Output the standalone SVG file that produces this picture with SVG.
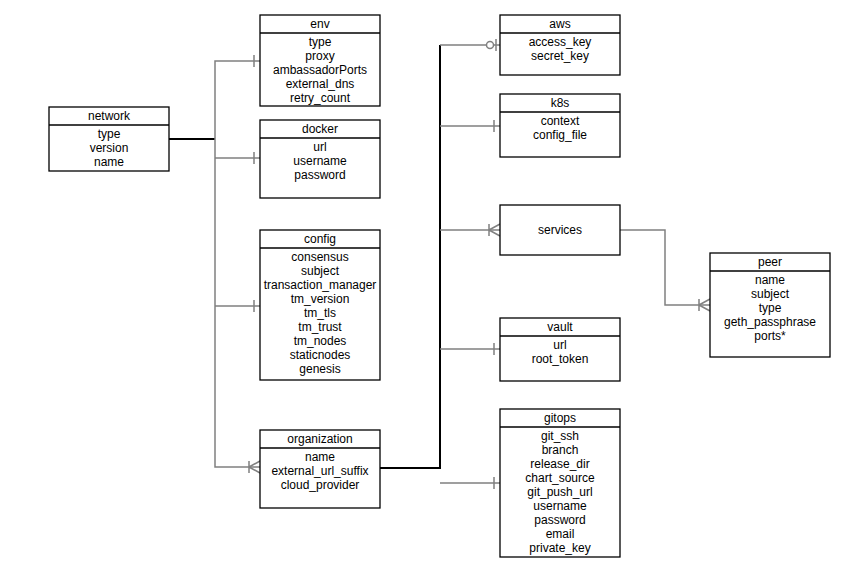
<svg xmlns="http://www.w3.org/2000/svg" width="852" height="579" viewBox="0 0 852 579">
<style>
.box{fill:#fff;stroke:#000;stroke-width:1.3}
text{font-family:"Liberation Sans",Arial,sans-serif;font-size:12px;text-anchor:middle;fill:#000}
.g{fill:none;stroke:#808080;stroke-width:1.5}
.b{fill:none;stroke:#000;stroke-width:2}
.m{fill:none;stroke:#808080;stroke-width:1.5}
</style>
<rect width="852" height="579" fill="#fff"/>
<g id="connectors">
<path class="b" d="M169 139H215"/>
<path class="g" d="M260 61H215V467H260M215 158H260M215 306H260"/>
<path class="b" d="M380 468H440V45"/>
<path class="g" d="M500 45H440M440 126H500M440 230H500M440 349H500M440 483H500"/>
<path class="g" d="M620 230H665V305H710"/>
<path class="m" d="M254 55V67M254 152V164M254 300V312M494 120V132M494 343V355M494 477V489"/>
<path class="m" d="M496 39V51"/>
<circle cx="490" cy="45" r="3.5" fill="#fff" stroke="#808080" stroke-width="1.5"/>
<path class="m" d="M249 461V473M249 467L260 461M249 467L260 473M489 224V236M489 230L500 224M489 230L500 236M699 299V311M699 305L710 299M699 305L710 311"/>
</g>
<g id="network"><rect class="box" x="49" y="107" width="120" height="64"/><path class="box" d="M49 125H169"/><text x="109" y="120">network</text><text x="109" y="138">type</text><text x="109" y="152">version</text><text x="109" y="166">name</text></g>
<g id="env"><rect class="box" x="260" y="15" width="120" height="91"/><path class="box" d="M260 33H380"/><text x="320" y="28">env</text><text x="320" y="46">type</text><text x="320" y="60">proxy</text><text x="320" y="74">ambassadorPorts</text><text x="320" y="88">external_dns</text><text x="320" y="102">retry_count</text></g>
<g id="docker"><rect class="box" x="260" y="120" width="120" height="78"/><path class="box" d="M260 138H380"/><text x="320" y="133">docker</text><text x="320" y="151">url</text><text x="320" y="165">username</text><text x="320" y="179">password</text></g>
<g id="config"><rect class="box" x="260" y="230" width="120" height="150"/><path class="box" d="M260 248H380"/><text x="320" y="243">config</text><text x="320" y="261">consensus</text><text x="320" y="275">subject</text><text x="320" y="289">transaction_manager</text><text x="320" y="303">tm_version</text><text x="320" y="317">tm_tls</text><text x="320" y="331">tm_trust</text><text x="320" y="345">tm_nodes</text><text x="320" y="359">staticnodes</text><text x="320" y="373">genesis</text></g>
<g id="organization"><rect class="box" x="260" y="430" width="120" height="78"/><path class="box" d="M260 448H380"/><text x="320" y="443">organization</text><text x="320" y="461">name</text><text x="320" y="475">external_url_suffix</text><text x="320" y="489">cloud_provider</text></g>
<g id="aws"><rect class="box" x="500" y="15" width="120" height="60"/><path class="box" d="M500 33H620"/><text x="560" y="28">aws</text><text x="560" y="46">access_key</text><text x="560" y="60">secret_key</text></g>
<g id="k8s"><rect class="box" x="500" y="94" width="120" height="63"/><path class="box" d="M500 112H620"/><text x="560" y="107">k8s</text><text x="560" y="125">context</text><text x="560" y="139">config_file</text></g>
<g id="services"><rect class="box" x="500" y="205" width="120" height="50"/><text x="560" y="234">services</text></g>
<g id="vault"><rect class="box" x="500" y="318" width="120" height="63"/><path class="box" d="M500 336H620"/><text x="560" y="331">vault</text><text x="560" y="349">url</text><text x="560" y="363">root_token</text></g>
<g id="gitops"><rect class="box" x="500" y="409" width="120" height="148"/><path class="box" d="M500 427H620"/><text x="560" y="422">gitops</text><text x="560" y="440">git_ssh</text><text x="560" y="454">branch</text><text x="560" y="468">release_dir</text><text x="560" y="482">chart_source</text><text x="560" y="496">git_push_url</text><text x="560" y="510">username</text><text x="560" y="524">password</text><text x="560" y="538">email</text><text x="560" y="552">private_key</text></g>
<g id="peer"><rect class="box" x="710" y="253" width="120" height="104"/><path class="box" d="M710 271H830"/><text x="770" y="266">peer</text><text x="770" y="284">name</text><text x="770" y="298">subject</text><text x="770" y="312">type</text><text x="770" y="326">geth_passphrase</text><text x="770" y="340">ports*</text></g>
</svg>
